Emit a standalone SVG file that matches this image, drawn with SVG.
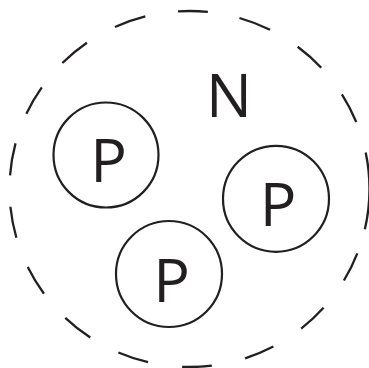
<svg xmlns="http://www.w3.org/2000/svg" width="369" height="368" viewBox="0 0 369 368">
<style>
.ring{fill:none;stroke:#231f20;stroke-width:2.2}
.outer{fill:none;stroke:#231f20;stroke-width:2.3}
.lbl{font-family:"Open Sans","Noto Sans",sans-serif;font-size:61px;fill:#231f20;text-anchor:middle}
</style>
<rect width="369" height="368" fill="#ffffff"/>
<g id="nucleus">
<path class="outer" pathLength="360" stroke-dasharray="13 8.1 9.7 10.9 9.8 10.6 9.8 10.9 9.6 11 10 10.2 10.2 10.3 10 10.1 10.1 10.1 10.4 10.1 9.8 10.2 10.2 10.3 10.3 10.6 9.6 10.3 10.5 10.4 10.1 10.8 10 10.2 11.8" d="M369.5,189 A180,178 0 1 1 9.5,189 A180,178 0 1 1 369.5,189 Z"/>
<text class="lbl" x="229" y="117">N</text>
</g>
<g id="p1">
<circle class="ring" cx="106" cy="155" r="52.5"/>
<text class="lbl" x="108.5" y="182">P</text>
</g>
<g id="p2">
<circle class="ring" cx="276" cy="198.8" r="53"/>
<text class="lbl" x="278" y="226">P</text>
</g>
<g id="p3">
<circle class="ring" cx="169" cy="274" r="53"/>
<text class="lbl" x="171.5" y="302">P</text>
</g>
<g id="connectors"/>
</svg>
